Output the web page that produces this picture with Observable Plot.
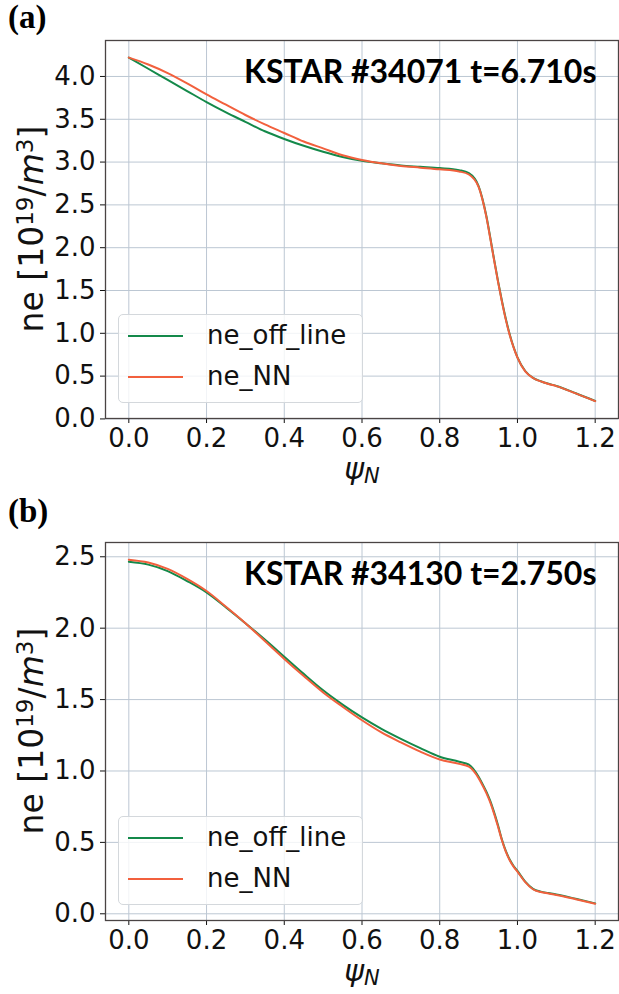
<!DOCTYPE html>
<html><head><meta charset="utf-8">
<script src="https://cdn.jsdelivr.net/npm/d3@7"></script>
<script src="https://cdn.jsdelivr.net/npm/@observablehq/plot@0.6"></script>
<style>
body{margin:0;background:#fff;}
#page{position:relative;width:619px;height:994px;overflow:hidden;background:#fff;}
.plabel{position:absolute;z-index:5;font-family:"Liberation Serif",serif;font-weight:bold;font-size:33px;line-height:1;}
.panel{position:absolute;left:0;z-index:1;}
.legend{position:absolute;z-index:3;left:118px;width:245px;height:89px;box-sizing:border-box;border:1px solid #d4d8dc;border-radius:5px;background:rgba(255,255,255,0.8);font-family:"DejaVu Sans",sans-serif;font-size:26px;}
.legend .row{position:absolute;left:0;height:0;}
.legend .sw{position:absolute;left:9px;width:55px;height:0;border-top:2px solid;}
.legend .lt{position:absolute;left:88px;top:-17px;white-space:nowrap;line-height:32px;color:#111;}
</style>
</head><body>
<div id="page"></div>
<script>
// shared x ticks
const xTicks = [0, 0.2, 0.4, 0.6, 0.8, 1.0, 1.2];
const legendLabels = ["ne_off_line", "ne_NN"];
const colors = ["#14894a", "#f2603d"];

// panel (a) : KSTAR #34071 t=6.710s
const psiA = [0,0.05,0.1,0.15,0.2,0.25,0.3,0.35,0.4,0.45,0.5,0.55,0.6,0.65,0.7,0.75,0.8,0.85,0.875,0.9,0.91,0.92,0.93,0.94,0.95,0.96,0.97,0.98,0.99,1.0,1.02,1.04,1.06,1.08,1.1,1.15,1.2];
const offA = [4.22,4.09,3.96,3.83,3.70,3.58,3.47,3.36,3.27,3.19,3.12,3.06,3.015,2.985,2.96,2.945,2.93,2.905,2.87,2.72,2.57,2.37,2.12,1.86,1.61,1.38,1.17,0.99,0.84,0.72,0.56,0.48,0.44,0.41,0.385,0.30,0.21];
const nnA  = [4.22,4.14,4.04,3.92,3.79,3.67,3.55,3.44,3.34,3.24,3.16,3.08,3.025,2.985,2.955,2.935,2.915,2.89,2.855,2.71,2.56,2.36,2.11,1.85,1.60,1.37,1.16,0.98,0.835,0.715,0.555,0.478,0.438,0.408,0.383,0.298,0.208];
const yTicksA = [0,0.5,1.0,1.5,2.0,2.5,3.0,3.5,4.0];
const titleA = "KSTAR #34071 t=6.710s";

// panel (b) : KSTAR #34130 t=2.750s
const psiB = [0,0.05,0.1,0.15,0.2,0.25,0.3,0.35,0.4,0.45,0.5,0.55,0.6,0.65,0.7,0.75,0.8,0.85,0.875,0.9,0.91,0.92,0.93,0.94,0.95,0.96,0.97,0.98,0.99,1.0,1.02,1.04,1.06,1.08,1.1,1.15,1.2];
const offB = [2.465,2.445,2.40,2.33,2.25,2.145,2.035,1.92,1.80,1.68,1.565,1.465,1.375,1.295,1.225,1.16,1.10,1.065,1.045,0.96,0.91,0.855,0.79,0.71,0.62,0.52,0.44,0.38,0.335,0.30,0.225,0.175,0.155,0.145,0.135,0.105,0.073];
const nnB  = [2.48,2.46,2.415,2.345,2.26,2.15,2.035,1.91,1.785,1.665,1.55,1.45,1.355,1.27,1.20,1.135,1.08,1.05,1.03,0.95,0.90,0.845,0.78,0.70,0.61,0.515,0.435,0.375,0.33,0.295,0.222,0.172,0.152,0.142,0.132,0.102,0.070];
const yTicksB = [0,0.5,1.0,1.5,2.0,2.5];
const titleB = "KSTAR #34130 t=2.750s";

const gridColor = "#bcc7d3";
const fmt = d => d.toFixed(1);

function panel(psi, off, nn, yDomain, yTicks, title) {
  const data = psi.map((p, i) => ({psi: p, off: off[i], nn: nn[i]}));
  const svg = Plot.plot({
    width: 619, height: 492,
    marginLeft: 105, marginRight: 1, marginTop: 40, marginBottom: 74,
    style: {fontFamily: "'DejaVu Sans'", fontSize: "26px", background: "transparent", color: "#111", overflow: "visible"},
    x: {domain: [-0.06, 1.26]},
    y: {domain: yDomain},
    marks: [
      Plot.gridX(xTicks, {stroke: gridColor, strokeOpacity: 1, strokeWidth: 1}),
      Plot.gridY(yTicks, {stroke: gridColor, strokeOpacity: 1, strokeWidth: 1}),
      Plot.axisX(xTicks, {tickFormat: fmt, tickSize: 5, tickPadding: 5, label: null, fontSize: 26, fontFamily: "DejaVu Sans"}),
      Plot.axisY(yTicks, {tickFormat: fmt, tickSize: 5, tickPadding: 5, label: null, fontSize: 26, fontFamily: "DejaVu Sans"}),
      Plot.line(data, {x: "psi", y: "off", stroke: colors[0], strokeWidth: 2, curve: "monotone-x"}),
      Plot.line(data, {x: "psi", y: "nn", stroke: colors[1], strokeWidth: 2, curve: "monotone-x"}),
      Plot.frame({stroke: "#4a4444", strokeWidth: 1.3}),
      Plot.text([title], {frameAnchor: "top-right", textAnchor: "end", lineAnchor: "middle", dx: -22, dy: 32, fontWeight: "bold", fontFamily: "Lato", fontSize: 32, fill: "#000"})
    ]
  });
  const s = d3.select(svg);
  // y label
  const yl = s.append("text")
    .attr("transform", "translate(43,229) rotate(-90)")
    .attr("text-anchor", "middle")
    .attr("font-family", "DejaVu Sans")
    .attr("font-size", 33)
    .attr("fill", "#111");
  yl.append("tspan").text("ne [10");
  yl.append("tspan").attr("dy", "-0.45em").attr("font-size", "0.7em").text("19");
  yl.append("tspan").attr("dy", "0.315em").text("/");
  yl.append("tspan").attr("font-style", "italic").text("m");
  yl.append("tspan").attr("dy", "-0.45em").attr("font-size", "0.7em").text("3");
  yl.append("tspan").attr("dy", "0.315em").text("]");
  // x label
  const xl = s.append("text")
    .attr("x", 362).attr("y", 479)
    .attr("text-anchor", "middle")
    .attr("font-family", "DejaVu Sans")
    .attr("font-size", 30)
    .attr("font-style", "italic")
    .attr("fill", "#111");
  xl.append("tspan").text("ψ");
  xl.append("tspan").attr("dy", "0.2em").attr("font-size", "0.7em").text("N");
  return svg;
}

const page = document.getElementById("page");

function addPanel(top, labelText, labelTop, svg) {
  const wrap = document.createElement("div");
  wrap.className = "panel";
  wrap.style.top = top + "px";
  wrap.appendChild(svg);
  page.appendChild(wrap);
  const lab = document.createElement("div");
  lab.className = "plabel";
  lab.style.left = "8px";
  lab.style.top = labelTop + "px";
  lab.textContent = labelText;
  page.appendChild(lab);
  const lg = document.createElement("div");
  lg.className = "legend";
  lg.style.top = (top + 314) + "px";
  legendLabels.forEach((t, i) => {
    const row = document.createElement("div");
    row.className = "row";
    row.style.top = (21 + i * 41) + "px";
    const sw = document.createElement("div");
    sw.className = "sw";
    sw.style.borderTopColor = colors[i];
    sw.style.top = "-1px";
    const lt = document.createElement("div");
    lt.className = "lt";
    lt.textContent = t;
    row.appendChild(sw); row.appendChild(lt);
    lg.appendChild(row);
  });
  page.appendChild(lg);
}

addPanel(0, "(a)", 1, panel(psiA, offA, nnA, [0.005, 4.42], yTicksA, titleA));
addPanel(502, "(b)", 495, panel(psiB, offB, nnB, [-0.047, 2.60], yTicksB, titleB));
</script>
</body></html>
